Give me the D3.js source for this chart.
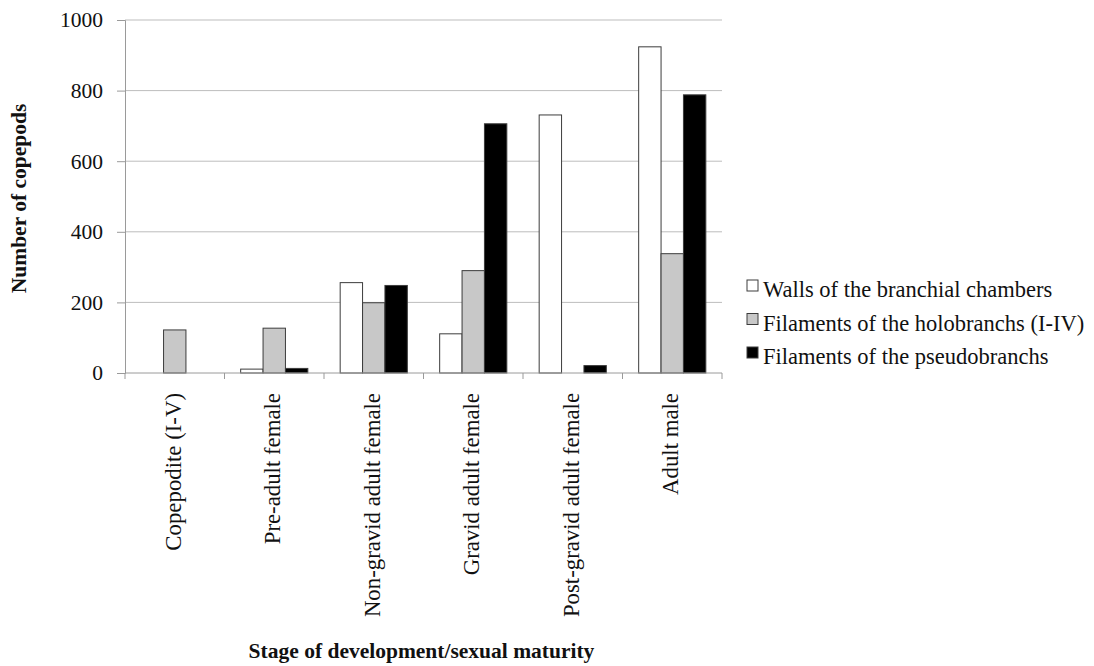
<!DOCTYPE html>
<html>
<head>
<meta charset="utf-8">
<script src="https://cdn.jsdelivr.net/npm/d3@7"></script>
<style>
  html, body { margin: 0; padding: 0; background: #fff; }
  svg { display: block; font-family: "Liberation Serif", "Times New Roman", serif; }
</style>
</head>
<body>
<svg id="chart" width="1094" height="666"></svg>
<script>
// Copepod counts by developmental stage and attachment site
const categories = [
  "Copepodite (I-V)",
  "Pre-adult female",
  "Non-gravid adult female",
  "Gravid adult female",
  "Post-gravid adult female",
  "Adult male"
];
const seriesNames = [
  "Walls of the branchial chambers",
  "Filaments of the holobranchs (I-IV)",
  "Filaments of the pseudobranchs"
];
const wallsValues       = [0, 11, 256, 111, 731, 924];
const holobranchValues  = [122, 127, 199, 290, 0, 338];
const pseudobranchValues = [0, 13, 248, 706, 21, 788];
const yTicks = [0, 200, 400, 600, 800, 1000];
const seriesFills = ["#ffffff", "#c8c8c8", "#000000"];

const seriesValues = [wallsValues, holobranchValues, pseudobranchValues];

const svg = d3.select("#chart");
const margin = { left: 125, right: 372, top: 20, bottom: 293 };
const width = 1094 - margin.left - margin.right;
const height = 666 - margin.top - margin.bottom;

const g = svg.append("g").attr("transform", `translate(${margin.left},${margin.top})`);

const x = d3.scaleBand().domain(categories).range([0, width]).paddingInner(0).paddingOuter(0);
const groupWidth = x.bandwidth() * 0.675;
const xs = d3.scaleBand().domain(seriesNames).range([0, groupWidth]);
const y = d3.scaleLinear().domain([0, 1000]).range([height, 0]);

// horizontal gridlines
g.append("g")
  .selectAll("line")
  .data(yTicks.filter(t => t > 0))
  .join("line")
  .attr("x1", 0).attr("x2", width)
  .attr("y1", d => y(d)).attr("y2", d => y(d))
  .attr("stroke", "#bdbdbd").attr("stroke-width", 1);

// y axis
const yAxis = g.append("g")
  .call(d3.axisLeft(y).tickValues(yTicks).tickSize(8).tickPadding(14).tickFormat(d3.format("d")));
yAxis.select(".domain").attr("stroke", "#9a9a9a");
yAxis.selectAll(".tick line").attr("stroke", "#9a9a9a");
yAxis.selectAll(".tick text")
  .attr("font-size", 21.5).attr("fill", "#111")
  .attr("font-family", "Liberation Serif, serif");

// bars
const groups = g.append("g")
  .selectAll("g")
  .data(categories)
  .join("g")
  .attr("transform", d => `translate(${x(d) + (x.bandwidth() - groupWidth) / 2},0)`);

groups.selectAll("rect")
  .data((c, i) => seriesNames.map((s, k) => ({ s, k, v: seriesValues[k][i] })).filter(d => d.v > 0))
  .join("rect")
  .attr("x", d => xs(d.s))
  .attr("width", xs.bandwidth())
  .attr("y", d => y(d.v))
  .attr("height", d => height - y(d.v))
  .attr("fill", d => seriesFills[d.k])
  .attr("stroke", "#3c3c3c")
  .attr("stroke-width", 1);

// x axis with ticks at category boundaries
const xAxisG = g.append("g").attr("transform", `translate(0,${height})`);
xAxisG.append("line")
  .attr("x1", 0).attr("x2", width).attr("y1", 0).attr("y2", 0)
  .attr("stroke", "#9a9a9a");
xAxisG.selectAll("line.boundary")
  .data(d3.range(categories.length + 1))
  .join("line")
  .attr("class", "boundary")
  .attr("x1", i => i * x.step()).attr("x2", i => i * x.step())
  .attr("y1", 0).attr("y2", 6)
  .attr("stroke", "#9a9a9a");
xAxisG.selectAll("text")
  .data(categories)
  .join("text")
  .attr("transform", d => `translate(${x(d) + x.bandwidth() / 2 + 6},${20}) rotate(-90)`)
  .attr("text-anchor", "end")
  .attr("font-size", 22.8)
  .attr("fill", "#111")
  .text(d => d);

// axis titles
svg.append("text")
  .attr("transform", `translate(26,198.5) rotate(-90)`)
  .attr("text-anchor", "middle")
  .attr("font-size", 21.5)
  .attr("font-weight", "bold")
  .attr("fill", "#111")
  .text("Number of copepods");

svg.append("text")
  .attr("x", 421.5).attr("y", 658)
  .attr("text-anchor", "middle")
  .attr("font-size", 21.5)
  .attr("font-weight", "bold")
  .attr("fill", "#111")
  .text("Stage of development/sexual maturity");

// legend
const legend = svg.append("g").attr("transform", "translate(747,280)");
const legendRows = legend.selectAll("g")
  .data(seriesNames)
  .join("g")
  .attr("transform", (d, i) => `translate(0,${i * 33.5})`);
legendRows.append("rect")
  .attr("x", 0).attr("y", 0).attr("width", 11).attr("height", 11)
  .attr("fill", (d, i) => seriesFills[i])
  .attr("stroke", "#3c3c3c");
legendRows.append("text")
  .attr("x", 16).attr("y", 17)
  .attr("font-size", 22.5)
  .attr("fill", "#111")
  .text(d => d);
</script>
</body>
</html>
